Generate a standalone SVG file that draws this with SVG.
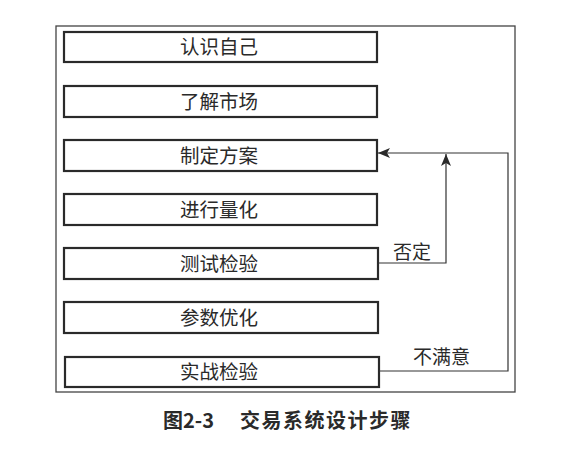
<svg xmlns="http://www.w3.org/2000/svg" width="579" height="456" viewBox="0 0 579 456">
<style>
.box{fill:#fff;stroke:#2a2a2a;stroke-width:2.2}
.t{font-family:"Noto Sans CJK SC","Liberation Sans",sans-serif;font-size:19.5px;fill:#2a2a2a;text-anchor:middle}
.lbl{font-family:"Noto Sans CJK SC","Liberation Sans",sans-serif;font-size:19px;fill:#2a2a2a}
.c{fill:none;stroke:#333;stroke-width:1.2}
.cap{font-family:"Noto Sans CJK SC","Liberation Sans",sans-serif;font-size:20px;font-weight:bold;fill:#2a2a2a}
</style>
<defs>
<marker id="ah" viewBox="0 0 12 10" refX="12" refY="5" markerWidth="12" markerHeight="10" markerUnits="userSpaceOnUse" orient="auto">
<path d="M0,0 L12,5 L0,10 L3,5 Z" fill="#2a2a2a"/>
</marker>
</defs>
<rect width="579" height="456" fill="#fff"/>
<rect x="56" y="26" width="459" height="366" fill="none" stroke="#444" stroke-width="1.3"/>
<g id="n1"><rect class="box" x="64" y="32" width="313" height="30"/><text class="t" x="219" y="54">认识自己</text></g>
<g id="n2"><rect class="box" x="64" y="86" width="313" height="31"/><text class="t" x="219" y="108.5">了解市场</text></g>
<g id="n3"><rect class="box" x="64" y="140" width="313" height="31"/><text class="t" x="219" y="162.5">制定方案</text></g>
<g id="n4"><rect class="box" x="64" y="194" width="313" height="31"/><text class="t" x="219" y="216.5">进行量化</text></g>
<g id="n5"><rect class="box" x="64" y="248" width="314" height="31"/><text class="t" x="219" y="270.5">测试检验</text></g>
<g id="n6"><rect class="box" x="64" y="302" width="314" height="31"/><text class="t" x="219" y="324.5">参数优化</text></g>
<g id="n7"><rect class="box" x="65" y="357" width="314" height="30"/><text class="t" x="219" y="379">实战检验</text></g>
<g id="connectors">
<path class="c" d="M378,263 H446 V154" marker-end="url(#ah)"/>
<path class="c" d="M379,371 H508 V153 H378" marker-end="url(#ah)"/>
</g>
<text class="lbl" x="393" y="259">否定</text>
<text class="lbl" x="413" y="364">不满意</text>
<text class="cap" x="163" y="428">图2-3</text>
<text class="cap" x="240" y="428" letter-spacing="1.5">交易系统设计步骤</text>
</svg>
